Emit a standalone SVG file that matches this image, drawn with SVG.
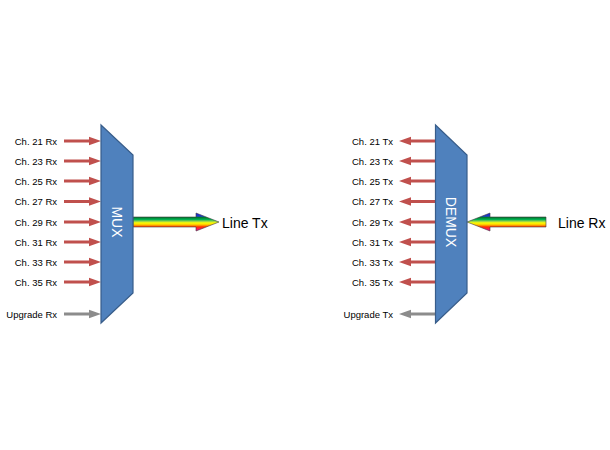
<svg xmlns="http://www.w3.org/2000/svg" xmlns:xlink="http://www.w3.org/1999/xlink" width="610" height="450" viewBox="0 0 610 450">
<style>
.bg{fill:#ffffff}
.box{fill:#4f81bd;stroke:#385d8a;stroke-width:1.2}
.lbl{font-family:"Liberation Sans",Arial,sans-serif;font-size:9.5px;fill:#000}
.big{font-family:"Liberation Sans",Arial,sans-serif;font-size:14px;fill:#000}
.inner{font-family:"Liberation Sans",Arial,sans-serif;font-size:14px;fill:#ffffff}
.red{fill:#c0504d}
.gray{fill:#8c8c8c}
.rain{fill:url(#rainbow);stroke:#404040;stroke-width:0.6}
</style>
<defs>
<linearGradient id="rainbow" gradientUnits="userSpaceOnUse" x1="0" y1="213" x2="0" y2="231">
<stop offset="0" stop-color="#1a1ae0"/>
<stop offset="0.18" stop-color="#2040c0"/>
<stop offset="0.25" stop-color="#007a30"/>
<stop offset="0.36" stop-color="#00b050"/>
<stop offset="0.46" stop-color="#92d050"/>
<stop offset="0.55" stop-color="#ffff00"/>
<stop offset="0.66" stop-color="#ffc000"/>
<stop offset="0.77" stop-color="#ff3000"/>
<stop offset="1" stop-color="#ff00a0"/>
</linearGradient>
<path id="rarrow" d="M0,-1.6 H25 V-4.2 L37,0 L25,4.2 V1.6 H0 Z"/>
<path id="larrow" d="M0,0 L12,-4.2 V-1.6 H36 V1.6 H12 V4.2 Z"/>
</defs>
<rect class="bg" x="0" y="0" width="610" height="450"/>

<g id="connectors">
<use xlink:href="#rarrow" href="#rarrow" class="red" x="64" y="141"/>
<use xlink:href="#rarrow" href="#rarrow" class="red" x="64" y="161"/>
<use xlink:href="#rarrow" href="#rarrow" class="red" x="64" y="181"/>
<use xlink:href="#rarrow" href="#rarrow" class="red" x="64" y="201.5"/>
<use xlink:href="#rarrow" href="#rarrow" class="red" x="64" y="222"/>
<use xlink:href="#rarrow" href="#rarrow" class="red" x="64" y="242"/>
<use xlink:href="#rarrow" href="#rarrow" class="red" x="64" y="262"/>
<use xlink:href="#rarrow" href="#rarrow" class="red" x="64" y="282"/>
<use xlink:href="#rarrow" href="#rarrow" class="gray" x="64" y="314"/>

<use xlink:href="#larrow" href="#larrow" class="red" x="399" y="141"/>
<use xlink:href="#larrow" href="#larrow" class="red" x="399" y="161"/>
<use xlink:href="#larrow" href="#larrow" class="red" x="399" y="181"/>
<use xlink:href="#larrow" href="#larrow" class="red" x="399" y="201.5"/>
<use xlink:href="#larrow" href="#larrow" class="red" x="399" y="222"/>
<use xlink:href="#larrow" href="#larrow" class="red" x="399" y="242"/>
<use xlink:href="#larrow" href="#larrow" class="red" x="399" y="262"/>
<use xlink:href="#larrow" href="#larrow" class="red" x="399" y="282"/>
<use xlink:href="#larrow" href="#larrow" class="gray" x="399" y="314"/>

<polygon class="rain" points="133,217 196,217 196,213 219,222 196,231 196,227 133,227"/>
<polygon class="rain" points="467,222 490,213 490,217 546,217 546,227 490,227 490,231"/>
</g>

<g id="mux">
<polygon class="box" points="101,125 133,155 133,293 101,323"/>
<text class="inner" transform="translate(117,222) rotate(90)" text-anchor="middle" dy="5">MUX</text>
</g>

<g id="demux">
<polygon class="box" points="435.5,125 467,155 467,293 435.5,323"/>
<text class="inner" transform="translate(451,222) rotate(90)" text-anchor="middle" dy="5">DEMUX</text>
</g>

<g id="mux-labels">
<text class="lbl" x="57" y="144.5" text-anchor="end">Ch. 21 Rx</text>
<text class="lbl" x="57" y="164.5" text-anchor="end">Ch. 23 Rx</text>
<text class="lbl" x="57" y="184.5" text-anchor="end">Ch. 25 Rx</text>
<text class="lbl" x="57" y="205" text-anchor="end">Ch. 27 Rx</text>
<text class="lbl" x="57" y="225.5" text-anchor="end">Ch. 29 Rx</text>
<text class="lbl" x="57" y="245.5" text-anchor="end">Ch. 31 Rx</text>
<text class="lbl" x="57" y="265.5" text-anchor="end">Ch. 33 Rx</text>
<text class="lbl" x="57" y="285.5" text-anchor="end">Ch. 35 Rx</text>
<text class="lbl" x="57" y="317.5" text-anchor="end">Upgrade Rx</text>
</g>

<g id="demux-labels">
<text class="lbl" x="393" y="144.5" text-anchor="end">Ch. 21 Tx</text>
<text class="lbl" x="393" y="164.5" text-anchor="end">Ch. 23 Tx</text>
<text class="lbl" x="393" y="184.5" text-anchor="end">Ch. 25 Tx</text>
<text class="lbl" x="393" y="205" text-anchor="end">Ch. 27 Tx</text>
<text class="lbl" x="393" y="225.5" text-anchor="end">Ch. 29 Tx</text>
<text class="lbl" x="393" y="245.5" text-anchor="end">Ch. 31 Tx</text>
<text class="lbl" x="393" y="265.5" text-anchor="end">Ch. 33 Tx</text>
<text class="lbl" x="393" y="285.5" text-anchor="end">Ch. 35 Tx</text>
<text class="lbl" x="393" y="317.5" text-anchor="end">Upgrade Tx</text>
</g>

<g id="line-tx">
<text class="big" x="222" y="227.5">Line Tx</text>
</g>
<g id="line-rx">
<text class="big" x="558" y="227.5">Line Rx</text>
</g>
</svg>
